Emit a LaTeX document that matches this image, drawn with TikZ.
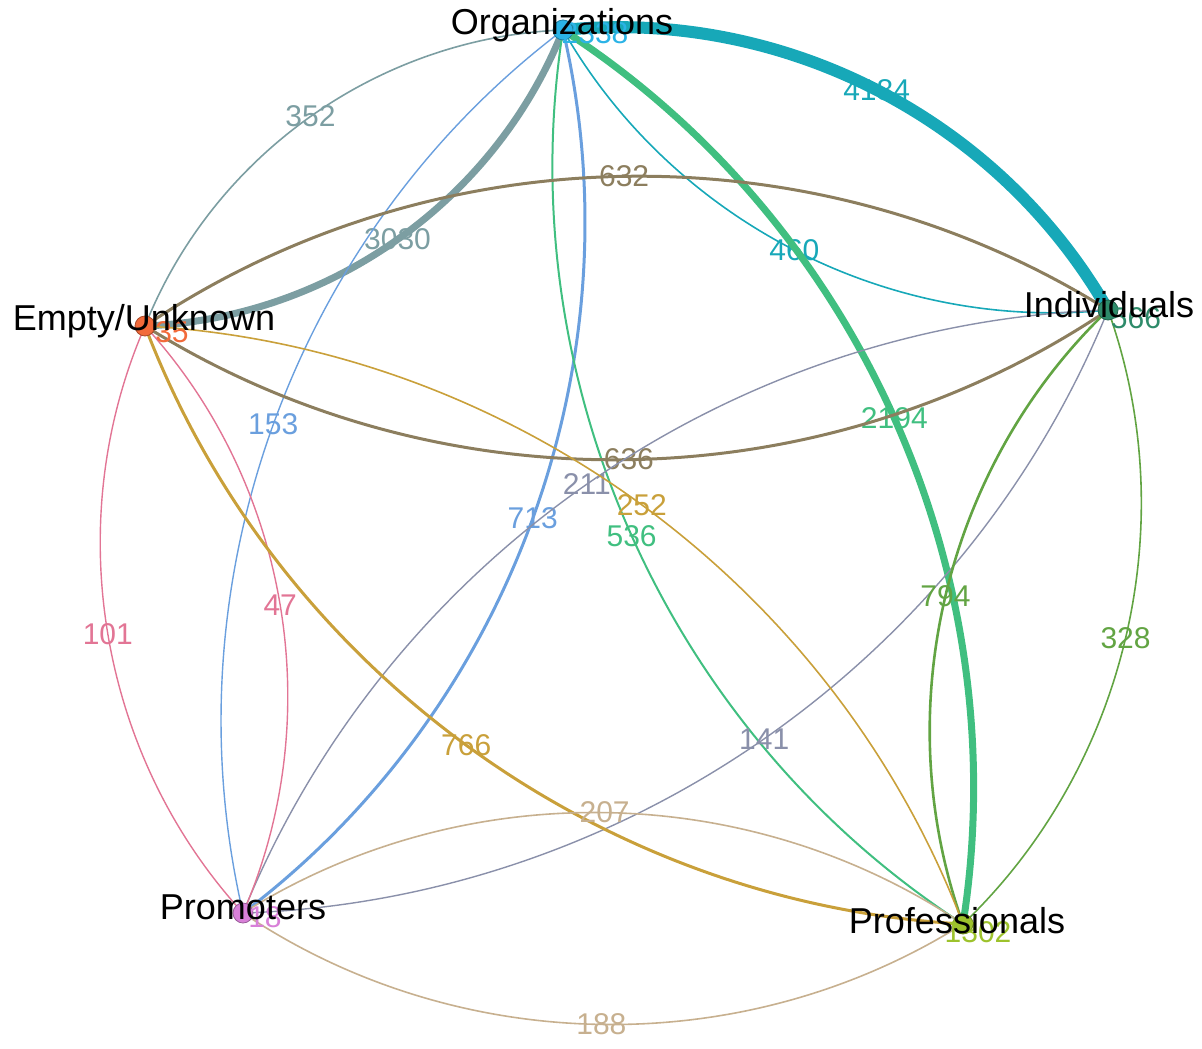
\documentclass[tikz,border=0pt]{standalone}
\usepackage{fontspec}
\setmainfont{Liberation Sans}
\usepackage{tikz}
\usepackage{xcolor}

\definecolor{orgcol}{HTML}{2BB3E6}
\definecolor{indcol}{HTML}{2E8B6A}
\definecolor{empcol}{HTML}{F26A3A}
\definecolor{promcol}{HTML}{D880D8}
\definecolor{profcol}{HTML}{9DC22C}
\definecolor{orgind}{HTML}{17A8B8}
\definecolor{orgemp}{HTML}{7C9EA2}
\definecolor{orgprom}{HTML}{6A9FDE}
\definecolor{orgprof}{HTML}{40BF80}
\definecolor{empind}{HTML}{8C7E5E}
\definecolor{indprom}{HTML}{8A90AA}
\definecolor{indprof}{HTML}{62A443}
\definecolor{empprom}{HTML}{E27595}
\definecolor{empprof}{HTML}{C9A03A}
\definecolor{promprof}{HTML}{C7B08F}

\begin{document}
\begin{tikzpicture}[x=0.5pt,y=0.5pt,bend angle=33,
  link/.style={draw=#1,looseness=0.92},
  num/.style={text=#1,font=\fontsize{15}{15}\selectfont,inner sep=0pt},
  dot/.style={circle,draw=#1!70!black,fill=#1,line width=0.4pt,minimum size=10pt,inner sep=0pt},
  loopnum/.style={text=#1,font=\fontsize{15}{15}\selectfont,inner sep=0pt},
  vname/.style={font=\fontsize{18}{18}\selectfont,inner sep=0pt}]
  \useasboundingbox (0,0) rectangle (1202,-1048);
  \coordinate (org) at (563,-30);
  \coordinate (ind) at (1108,-310);
  \coordinate (emp) at (145,-326);
  \coordinate (prom) at (243,-913);
  \coordinate (prof) at (963,-924);
  % Organizations and Individuals
  \draw[link=orgind,line width=6pt] (org) to[bend left] node[num=orgind] (l4184) {4184} (ind);
  \draw[link=orgind,line width=0.8pt] (org) to[bend right] node[num=orgind] (l460) {460} (ind);
  % Organizations and Empty/Unknown
  \draw[link=orgemp,line width=3.5pt] (org) to[bend left] node[num=orgemp] (l3030) {3030} (emp);
  \draw[link=orgemp,line width=0.8pt] (org) to[bend right] node[num=orgemp] (l352) {352} (emp);
  % Organizations and Promoters
  \draw[link=orgprom,line width=0.7pt] (org) to[bend right] node[num=orgprom] (l153) {153} (prom);
  \draw[link=orgprom,line width=1.5pt] (org) to[bend left] node[num=orgprom] (l713) {713} (prom);
  % Organizations and Professionals
  \draw[link=orgprof,line width=3.5pt] (org) to[bend left] node[num=orgprof] (l2194) {2194} (prof);
  \draw[link=orgprof,line width=1pt] (org) to[bend right] node[num=orgprof] (l536) {536} (prof);
  % Empty/Unknown and Individuals
  \draw[link=empind,line width=1.5pt] (emp) to[bend left] node[num=empind] (l632) {632} (ind);
  \draw[link=empind,line width=1.5pt] (emp) to[bend right] node[num=empind] (l636) {636} (ind);
  % Individuals and Promoters
  \draw[link=indprom,line width=0.7pt] (ind) to[bend right] node[num=indprom] (l211) {211} (prom);
  \draw[link=indprom,line width=0.7pt] (ind) to[bend left] node[num=indprom] (l141) {141} (prom);
  % Individuals and Professionals
  \draw[link=indprof,line width=1.3pt] (ind) to[bend right] node[num=indprof] (l794) {794} (prof);
  \draw[link=indprof,line width=0.8pt] (ind) to[bend left] node[num=indprof] (l328) {328} (prof);
  % Empty/Unknown and Promoters
  \draw[link=empprom,line width=0.7pt] (emp) to[bend right] node[num=empprom] (l101) {101} (prom);
  \draw[link=empprom,line width=0.7pt] (emp) to[bend left] node[num=empprom] (l47) {47} (prom);
  % Empty/Unknown and Professionals
  \draw[link=empprof,line width=1.5pt] (emp) to[bend right] node[num=empprof] (l766) {766} (prof);
  \draw[link=empprof,line width=0.8pt] (emp) to[bend left] node[num=empprof] (l252) {252} (prof);
  % Promoters and Professionals
  \draw[link=promprof,line width=0.8pt] (prom) to[bend left] node[num=promprof] (l207) {207} (prof);
  \draw[link=promprof,line width=0.8pt] (prom) to[bend right] node[num=promprof] (l188) {188} (prof);
  % vertices
  \node[dot=orgcol] (orgdot) at (org) {};
  \node[dot=indcol] (inddot) at (ind) {};
  \node[dot=empcol] (empdot) at (emp) {};
  \node[dot=promcol] (promdot) at (prom) {};
  \node[dot=profcol] (profdot) at (prof) {};
  % self counts
  \node[loopnum=orgcol] (orgloop) at (595,-33) {2338};
  \node[loopnum=indcol] (indloop) at (1136,-318) {566};
  \node[loopnum=empcol] (emploop) at (172,-332) {35};
  \node[loopnum=promcol] (promloop) at (265,-917) {18};
  \node[loopnum=profcol] (profloop) at (978,-932) {1302};
  % names
  \node[vname] (orgname) at (562,-25) {Organizations};
  \node[vname] (indname) at (1109,-305) {Individuals};
  \node[vname] (empname) at (144,-321) {Empty/Unknown};
  \node[vname] (promname) at (243,-907) {Promoters};
  \node[vname] (profname) at (957,-921) {Professionals};
\end{tikzpicture}
\end{document}
